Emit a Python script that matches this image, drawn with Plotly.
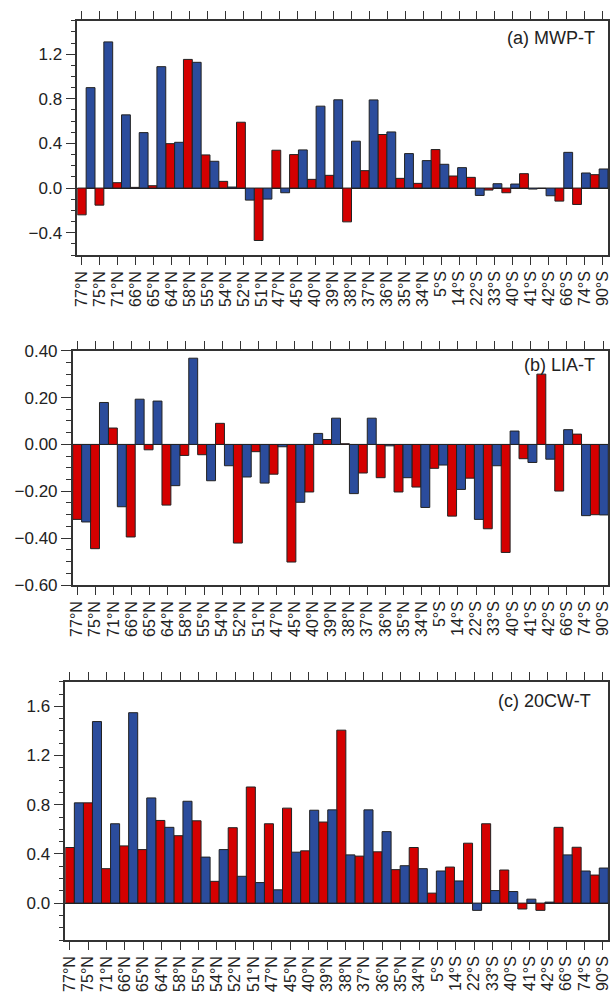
import plotly.graph_objects as go

categories = ["77°N", "75°N", "71°N", "66°N", "65°N", "64°N", "58°N", "55°N", "54°N", "52°N",
              "51°N", "47°N", "45°N", "40°N", "39°N", "38°N", "37°N", "36°N", "35°N", "34°N",
              "5°S", "14°S", "22°S", "33°S", "40°S", "41°S", "42°S", "66°S", "74°S", "90°S"]

mwp_red = [-0.24, -0.153, 0.048, 0.006, 0.021, 0.398, 1.153, 0.297, 0.06, 0.59,
           -0.47, 0.339, 0.30, 0.078, 0.114, -0.303, 0.156, 0.48, 0.087, 0.042,
           0.345, 0.108, 0.096, -0.018, -0.042, 0.129, -0.003, -0.117, -0.147, 0.12]
mwp_blue = [0.90, 1.31, 0.656, 0.497, 1.088, 0.41, 1.127, 0.24, 0.009, -0.108,
            -0.099, -0.042, 0.342, 0.734, 0.791, 0.42, 0.79, 0.503, 0.309, 0.246,
            0.213, 0.183, -0.066, 0.039, 0.036, -0.009, -0.069, 0.32, 0.135, 0.171]

lia_red = [-0.32, -0.445, 0.07, -0.395, -0.023, -0.259, -0.047, -0.044, 0.09, -0.421,
           -0.031, -0.127, -0.502, -0.203, 0.021, 0.003, -0.122, -0.142, -0.203, -0.182,
           -0.102, -0.306, -0.144, -0.36, -0.461, -0.061, 0.30, -0.199, 0.044, -0.30]
lia_blue = [-0.331, 0.179, -0.266, 0.193, 0.185, -0.176, 0.368, -0.155, -0.091, -0.139,
            -0.165, -0.01, -0.247, 0.047, 0.112, -0.21, 0.112, -0.006, -0.142, -0.269,
            -0.088, -0.192, -0.32, -0.091, 0.057, -0.077, -0.063, 0.063, -0.304, -0.301]

cw_red = [0.452, 0.815, 0.28, 0.465, 0.435, 0.672, 0.548, 0.669, 0.177, 0.613,
          0.944, 0.645, 0.772, 0.425, 0.659, 1.406, 0.382, 0.417, 0.272, 0.452,
          0.081, 0.293, 0.487, 0.645, 0.269, -0.048, -0.059, 0.616, 0.454, 0.228]
cw_blue = [0.815, 1.476, 0.645, 1.548, 0.855, 0.616, 0.828, 0.374, 0.435, 0.218,
           0.167, 0.108, 0.414, 0.755, 0.758, 0.392, 0.758, 0.581, 0.304, 0.28,
           0.261, 0.18, -0.059, 0.102, 0.094, 0.032, 0.008, 0.392, 0.261, 0.285]

panels = [
    ("(a) MWP-T", mwp_red, mwp_blue),
    ("(b) LIA-T", lia_red, lia_blue),
    ("(c) 20CW-T", cw_red, cw_blue),
]

RED = "#d40000"
BLUE = "#2b4c9c"
FONT = "Liberation Sans, Arial, sans-serif"
W, H = 610, 995

x_lo, x_hi = -0.24, 29.29
bw = (x_hi - x_lo) / (2 * len(categories))
x_red = [x_lo + bw / 2 + 2 * bw * i for i in range(len(categories))]
x_blue = [x + bw for x in x_red]

# pixel geometry of each panel: (left, right, top, bottom)
geom = [(77.3, 608.0, 20.7, 255.0), (72.7, 608.3, 350.7, 585.0), (65.3, 608.3, 681.7, 940.0)]
yranges = [(-0.6, 1.5), (-0.6, 0.4), (-0.3, 1.8)]
ydticks = [0.4, 0.2, 0.4]
yminor = [0.1, 0.05, 0.1]
yformats = [".1f", ".2f", ".1f"]
labels_pos = [(597, 37.5), (597, 365), (593, 701)]

fig = go.Figure()
layout = dict(
    width=W, height=H, margin=dict(l=0, r=0, t=0, b=0),
    template="none", paper_bgcolor="white", plot_bgcolor="white",
    showlegend=False, barmode="overlay", annotations=[],
    font=dict(family=FONT, size=16, color="#222"),
)

for k, (title, red, blue) in enumerate(panels):
    n = "" if k == 0 else str(k + 1)
    xa, ya = "x" + n, "y" + n
    for xs, vals, col in ((x_red, red, RED), (x_blue, blue, BLUE)):
        fig.add_trace(go.Bar(
            x=xs, y=vals, width=bw, xaxis=xa, yaxis=ya,
            marker=dict(color=col, line=dict(color="#222", width=1)),
        ))
    l, r, t, b = geom[k]
    layout["xaxis" + n] = dict(
        domain=[l / W, r / W], anchor=ya, range=[x_lo, x_hi],
        tickmode="array", tickvals=list(range(len(categories))), ticktext=categories,
        tickangle=-90, ticks="outside", ticklen=8, tickwidth=1.2, tickcolor="#333",
        showline=True, linecolor="#333", linewidth=1.5, mirror="allticks",
        showgrid=False, zeroline=False, automargin=False, ticklabeloverflow="allow",
        tickfont=dict(family=FONT, size=16, color="#222"),
    )
    layout["yaxis" + n] = dict(
        domain=[1 - b / H, 1 - t / H], anchor=xa, range=list(yranges[k]),
        tick0=0, dtick=ydticks[k], tickformat=yformats[k],
        ticks="outside", ticklen=10, tickwidth=1.2, tickcolor="#333",
        minor=dict(dtick=yminor[k], tick0=0, ticks="outside", ticklen=5,
                   tickwidth=1.2, tickcolor="#333"),
        showline=True, linecolor="#333", linewidth=1.5, mirror="allticks",
        showgrid=False, zeroline=True, zerolinecolor="#222", zerolinewidth=1.2,
        automargin=False, ticklabeloverflow="allow",
        tickfont=dict(family=FONT, size=17, color="#222"),
    )
    px, py = labels_pos[k]
    layout["annotations"].append(dict(
        text=title, xref="paper", yref="paper", x=px / W, y=1 - py / H,
        xanchor="right", yanchor="middle", showarrow=False,
        font=dict(family=FONT, size=18, color="#222"),
    ))

fig.update_layout(**layout)
fig.write_html(
    "out.html",
    config={"displayModeBar": False},
    post_script="document.body.style.margin='0';document.body.style.overflow='hidden';",
)
